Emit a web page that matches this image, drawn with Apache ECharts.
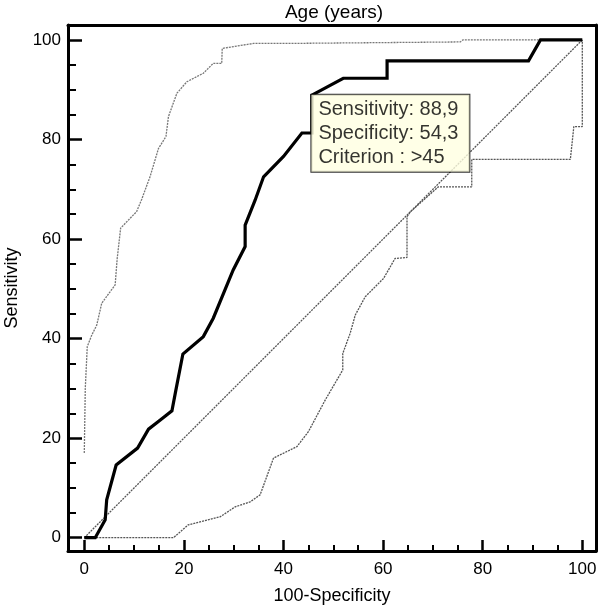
<!DOCTYPE html>
<html>
<head>
<meta charset="utf-8">
<script src="https://cdn.jsdelivr.net/npm/echarts@6/dist/echarts.min.js"></script>
<style>
html,body{margin:0;padding:0;background:#fff;}
#chart{width:600px;height:610px;}
</style>
</head>
<body>
<div id="chart"></div>
<script>
// ---- Data ----
const rocX = [0, 2.2, 4.2, 4.5, 6.4, 10.7, 12.9, 15.2, 17.6, 18.4, 19.8, 23.9, 25.9, 29.9, 32.3, 32.3, 34.3, 36.0, 40.0, 43.7, 45.7, 45.7, 52.0, 60.8, 60.8, 89.2, 91.6, 100];
const rocY = [0, 0, 3.6, 7.6, 14.6, 18.0, 21.8, 23.6, 25.5, 29.7, 36.9, 40.4, 44.1, 53.8, 58.5, 62.8, 67.8, 72.5, 76.6, 81.3, 81.3, 88.9, 92.3, 92.3, 95.8, 95.8, 100, 100];

const upperX = [0, 0.2, 0.6, 1.5, 2.5, 3.5, 6.2, 6.6, 7.3, 10.5, 11.5, 13.2, 14.9, 16.4, 16.9, 18.6, 20.6, 23.9, 25.9, 27.6, 27.7, 34.0, 41.3, 41.7, 75.5, 76.0, 100];
const upperY = [17, 30, 38.4, 40.7, 42.7, 47.1, 50.8, 56.0, 62.2, 65.5, 67.9, 72.5, 78.2, 80.6, 84.6, 89.3, 91.6, 93.3, 95.3, 95.3, 98.3, 99.3, 99.3, 99.6, 99.6, 100, 100];

const lowerX = [0, 17.9, 20.9, 27.3, 30.3, 33.3, 35.3, 38.0, 42.7, 45.0, 48.4, 51.9, 51.9, 53.4, 54.4, 56.4, 60.1, 62.4, 64.8, 64.8, 65.5, 71.1, 77.8, 77.8, 97.6, 98.3, 100, 100];
const lowerY = [0, 0, 2.6, 4.2, 6.2, 7.2, 8.6, 16.0, 18.3, 21.3, 27.7, 33.7, 37.0, 41.1, 44.7, 48.4, 52.1, 56.1, 56.3, 64.5, 65.5, 70.5, 70.5, 76.0, 76.0, 82.6, 82.6, 100];

const diagX = [0, 100];
const diagY = [0, 100];

const criterionPoint = [45.7, 88.9];
const criterionLines = ['Sensitivity: 88,9', 'Specificity: 54,3', 'Criterion : >45'];

const majorTicks = [0, 20, 40, 60, 80, 100];
const minorTicks = [5, 10, 15, 25, 30, 35, 45, 50, 55, 65, 70, 75, 85, 90, 95];

const titleText = 'Age (years)';
const xName = '100-Specificity';
const yName = 'Sensitivity';

// ---- Chart ----
const X_MIN = -3.27, X_MAX = 102.75;
const Y_MIN = -2.67, Y_MAX = 103.0;
const FONT = 'Arial, "Liberation Sans", sans-serif';

function zip(a, b) { return a.map((v, i) => [v, b[i]]); }

function xAxes() {
  const base = { type: 'value', min: X_MIN, max: X_MAX, splitLine: { show: false } };
  return [
    Object.assign({}, base, {
      position: 'bottom',
      axisLine: { show: true, onZero: false, lineStyle: { color: '#000', width: 3 } },
      axisTick: { show: true, inside: true, length: 11, customValues: majorTicks, lineStyle: { color: '#000', width: 2.5 } },
      axisLabel: { show: true, customValues: majorTicks, color: '#000', fontSize: 17, fontFamily: FONT, margin: 10 },
      name: xName, nameLocation: 'middle', nameGap: 36,
      nameTextStyle: { color: '#000', fontSize: 18, fontFamily: FONT }
    }),
    Object.assign({}, base, {
      position: 'bottom',
      axisLine: { show: false, onZero: false },
      axisTick: { show: true, inside: true, length: 6, customValues: minorTicks, lineStyle: { color: '#000', width: 2 } },
      axisLabel: { show: false }
    }),
    Object.assign({}, base, {
      position: 'top',
      axisLine: { show: true, onZero: false, lineStyle: { color: '#000', width: 3 } },
      axisTick: { show: false },
      axisLabel: { show: false }
    })
  ];
}
function yAxes() {
  const base = { type: 'value', min: Y_MIN, max: Y_MAX, splitLine: { show: false } };
  return [
    Object.assign({}, base, {
      position: 'left',
      axisLine: { show: true, onZero: false, lineStyle: { color: '#000', width: 3 } },
      axisTick: { show: true, inside: true, length: 14, customValues: majorTicks, lineStyle: { color: '#000', width: 2.5 } },
      axisLabel: { show: true, customValues: majorTicks, color: '#000', fontSize: 17, fontFamily: FONT, margin: 7 },
      name: yName, nameLocation: 'middle', nameGap: 47, nameRotate: 90,
      nameTextStyle: { color: '#000', fontSize: 18, fontFamily: FONT }
    }),
    Object.assign({}, base, {
      position: 'left',
      axisLine: { show: false, onZero: false },
      axisTick: { show: true, inside: true, length: 8, customValues: minorTicks, lineStyle: { color: '#000', width: 2 } },
      axisLabel: { show: false }
    }),
    Object.assign({}, base, {
      position: 'right',
      axisLine: { show: true, onZero: false, lineStyle: { color: '#000', width: 3 } },
      axisTick: { show: false },
      axisLabel: { show: false }
    })
  ];
}

const chart = echarts.init(document.getElementById('chart'), null, { renderer: 'canvas' });
chart.setOption({
  backgroundColor: '#fff',
  animation: false,
  graphic: [{
    type: 'text', x: 334, y: 13,
    style: { text: titleText, fill: '#000', font: '19px ' + FONT, textAlign: 'center', textVerticalAlign: 'middle' }
  }],
  grid: { left: 68, right: 4, top: 25, bottom: 59, containLabel: false, outerBoundsMode: 'none' },
  xAxis: xAxes(),
  yAxis: yAxes(),
  series: [
    {
      type: 'line', data: zip(diagX, diagY), symbol: 'none', silent: true,
      lineStyle: { color: '#555', width: 1.3, type: [2, 1] }, z: 2
    },
    {
      type: 'line', data: zip(upperX, upperY), symbol: 'none', silent: true,
      lineStyle: { color: '#777', width: 1.3, type: [2, 1] }, z: 2
    },
    {
      type: 'line', data: zip(lowerX, lowerY), symbol: 'none', silent: true,
      lineStyle: { color: '#555', width: 1.3, type: [2, 1] }, z: 2
    },
    {
      type: 'line', data: zip(rocX, rocY), symbol: 'none', silent: true,
      lineStyle: { color: '#000', width: 3.2, join: 'miter' }, z: 3
    },
    {
      type: 'scatter', data: [criterionPoint], symbolSize: 1, silent: true, z: 10,
      itemStyle: { color: 'rgba(0,0,0,0)' },
      label: {
        show: true, position: [0, 0], align: 'left', verticalAlign: 'top',
        formatter: () => criterionLines.join('\n'),
        color: '#000', fontSize: 20, fontFamily: FONT, lineHeight: 24,
        backgroundColor: '#ffffe1', borderColor: '#000', borderWidth: 1,
        padding: [3, 7, 2, 7], width: 144
      }
    }
  ]
});
</script>
</body>
</html>
